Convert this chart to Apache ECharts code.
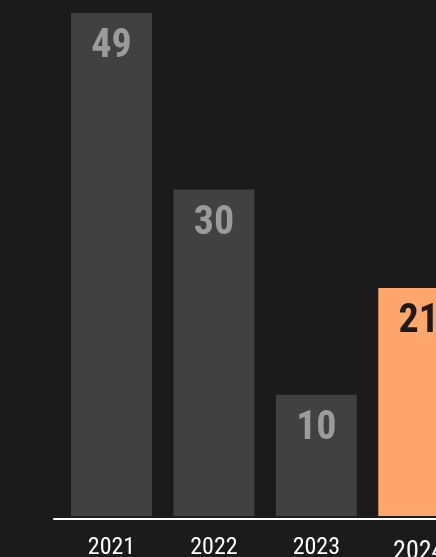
<!DOCTYPE html>
<html>
<head>
<meta charset="utf-8">
<script src="https://cdn.jsdelivr.net/npm/echarts@6/dist/echarts.min.js"></script>
<style>
html,body{margin:0;padding:0;background:#1b1b1b;overflow:hidden;width:436px;height:557px;}
#chart{width:470px;height:557px;}
</style>
</head>
<body>
<div id="chart"></div>
<script>
const categories = ['2021', '2022', '2023', '2024'];
const barValues = [49, 31.8, 11.8, 22.2];
const valueLabels = ['49', '30', '10', '21'];
const highlightIndex = 3;

const FONT = "'Roboto Condensed', 'Roboto', sans-serif";
const chart = echarts.init(document.getElementById('chart'), null, {renderer: 'canvas'});

const seriesData = barValues.map((v, i) => ({
  value: v,
  itemStyle: {color: i === highlightIndex ? '#FFA66C' : '#414141'},
  label: {color: i === highlightIndex ? '#1b1b1b' : '#9b9b9b'}
}));

chart.setOption({
  backgroundColor: '#1b1b1b',
  animation: false,
  grid: [
    {left: 60.3, right: 0, top: 13, bottom: 41, outerBoundsMode: 'none', containLabel: false},
    {left: 54, right: 0, top: 400, bottom: 38, outerBoundsMode: 'none', containLabel: false}
  ],
  xAxis: [
    {
      type: 'category', gridIndex: 0, data: categories,
      axisLine: {show: false}, axisTick: {show: false},
      axisLabel: {
        interval: 0, color: '#ffffff', fontFamily: FONT, fontSize: 24, margin: 20,
        formatter: (val, idx) => idx === highlightIndex ? '{hl|' + val + '}' : val,
        rich: {hl: {fontFamily: FONT, fontSize: 26, color: '#ffffff', padding: [3, 0, 0, 0]}}
      }
    },
    {
      type: 'value', gridIndex: 1, min: 0, max: 1,
      axisLine: {show: true, lineStyle: {color: '#ffffff', width: 2}},
      axisTick: {show: false}, axisLabel: {show: false}, splitLine: {show: false}
    }
  ],
  yAxis: [
    {type: 'value', gridIndex: 0, min: 0, max: 49, show: false, splitLine: {show: false}},
    {type: 'value', gridIndex: 1, min: 0, max: 1, show: false, splitLine: {show: false}}
  ],
  series: [{
    type: 'bar', xAxisIndex: 0, yAxisIndex: 0,
    barWidth: 81,
    data: seriesData,
    label: {
      show: true, position: 'insideTop', distance: 14,
      fontFamily: FONT, fontSize: 40, fontWeight: 'bold',
      formatter: p => valueLabels[p.dataIndex]
    }
  }]
});
</script>
</body>
</html>
